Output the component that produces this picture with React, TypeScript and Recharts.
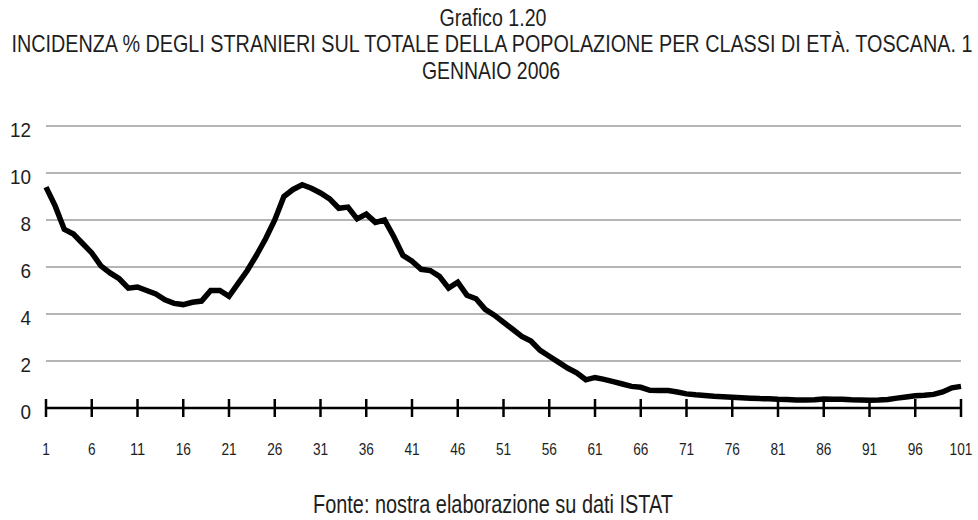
import * as React from "react";
import { CartesianGrid, Line, LineChart, XAxis, YAxis } from "recharts";

// età singole 1..101
const ages = Array.from({ length: 101 }, (_, i) => i + 1);

// incidenza % stranieri per età
const incidence = [
  9.4, 8.6, 7.6, 7.4, 7.0, 6.6, 6.05, 5.75, 5.5, 5.1,
  5.15, 5.0, 4.85, 4.6, 4.45, 4.4, 4.5, 4.55, 5.0, 5.0,
  4.75, 5.3, 5.85, 6.5, 7.2, 8.0, 9.0, 9.3, 9.5, 9.35,
  9.15, 8.9, 8.5, 8.55, 8.05, 8.25, 7.9, 8.0, 7.3, 6.5,
  6.25, 5.9, 5.85, 5.6, 5.1, 5.35, 4.8, 4.65, 4.2, 3.95,
  3.65, 3.35, 3.05, 2.85, 2.45, 2.2, 1.95, 1.7, 1.5, 1.2,
  1.3, 1.22, 1.12, 1.02, 0.92, 0.88, 0.75, 0.74, 0.74, 0.68,
  0.6, 0.56, 0.53, 0.5, 0.48, 0.46, 0.44, 0.42, 0.4, 0.39,
  0.37, 0.36, 0.34, 0.34, 0.35, 0.38, 0.37, 0.37, 0.35, 0.34,
  0.33, 0.34, 0.36, 0.42, 0.47, 0.52, 0.54, 0.58, 0.68, 0.86,
  0.92,
];

const xTicks = [1, 6, 11, 16, 21, 26, 31, 36, 41, 46, 51, 56, 61, 66, 71, 76, 81, 86, 91, 96, 101];
const yTicks = [0, 2, 4, 6, 8, 10, 12];

const title = "Grafico 1.20";
const subtitle1 = "INCIDENZA % DEGLI STRANIERI SUL TOTALE DELLA POPOLAZIONE PER CLASSI DI ETÀ. TOSCANA. 1";
const subtitle2 = "GENNAIO 2006";
const source = "Fonte: nostra elaborazione su dati ISTAT";

const data = ages.map((age, i) => ({ age, value: incidence[i] }));

const FONT = "'Liberation Sans', Arial, sans-serif";
const TEXT = "#1e1e1e";

function XTick({ x, y, payload }: any) {
  const label = String(payload.value);
  return (
    <g>
      <line x1={x} x2={x} y1={y - 9} y2={y + 9} stroke="#000" strokeWidth={2.5} />
      <text
        x={x}
        y={y + 47}
        textAnchor="middle"
        fontSize={17}
        fontFamily={FONT}
        fill={TEXT}
        textLength={label.length * 7.6}
        lengthAdjust="spacingAndGlyphs"
      >
        {label}
      </text>
    </g>
  );
}

function YTick({ x, y, payload }: any) {
  const label = String(payload.value);
  return (
    <text
      x={x - 15}
      y={y + 11}
      textAnchor="end"
      fontSize={21}
      fontFamily={FONT}
      fill={TEXT}
      textLength={label.length * 10.5}
      lengthAdjust="spacingAndGlyphs"
    >
      {label}
    </text>
  );
}

export default function App() {
  return (
    <div style={{ position: "absolute", left: 0, top: 0, width: 978, height: 520, background: "#fff" }}>
      <svg width={978} height={520} style={{ position: "absolute", left: 0, top: 0, pointerEvents: "none" }}>
        <text x={493} y={26} textAnchor="middle" fontSize={23} fontFamily={FONT} fill={TEXT} textLength={107} lengthAdjust="spacingAndGlyphs">
          {title}
        </text>
        <text x={492} y={52} textAnchor="middle" fontSize={24.5} fontFamily={FONT} fill={TEXT} textLength={961} lengthAdjust="spacingAndGlyphs">
          {subtitle1}
        </text>
        <text x={491} y={79} textAnchor="middle" fontSize={24.5} fontFamily={FONT} fill={TEXT} textLength={138} lengthAdjust="spacingAndGlyphs">
          {subtitle2}
        </text>
        <text x={493} y={513} textAnchor="middle" fontSize={25} fontFamily={FONT} fill={TEXT} textLength={360} lengthAdjust="spacingAndGlyphs">
          {source}
        </text>
      </svg>
      <LineChart width={978} height={520} data={data} margin={{ top: 126, right: 17, bottom: 0, left: 0 }}>
        <CartesianGrid vertical={false} stroke="#9c9c9c" strokeWidth={1.5} />
        <XAxis
          dataKey="age"
          type="number"
          domain={[1, 101]}
          ticks={xTicks}
          interval={0}
          height={112}
          tickSize={0}
          tickMargin={0}
          tickLine={false}
          axisLine={{ stroke: "#000", strokeWidth: 2.5 }}
          tick={<XTick />}
        />
        <YAxis
          domain={[0, 12]}
          ticks={yTicks}
          width={46}
          tickSize={0}
          tickMargin={0}
          tickLine={false}
          axisLine={false}
          tick={<YTick />}
        />
        <Line
          dataKey="value"
          stroke="#000"
          strokeWidth={5.5}
          dot={false}
          type="linear"
          isAnimationActive={false}
        />
      </LineChart>
    </div>
  );
}
